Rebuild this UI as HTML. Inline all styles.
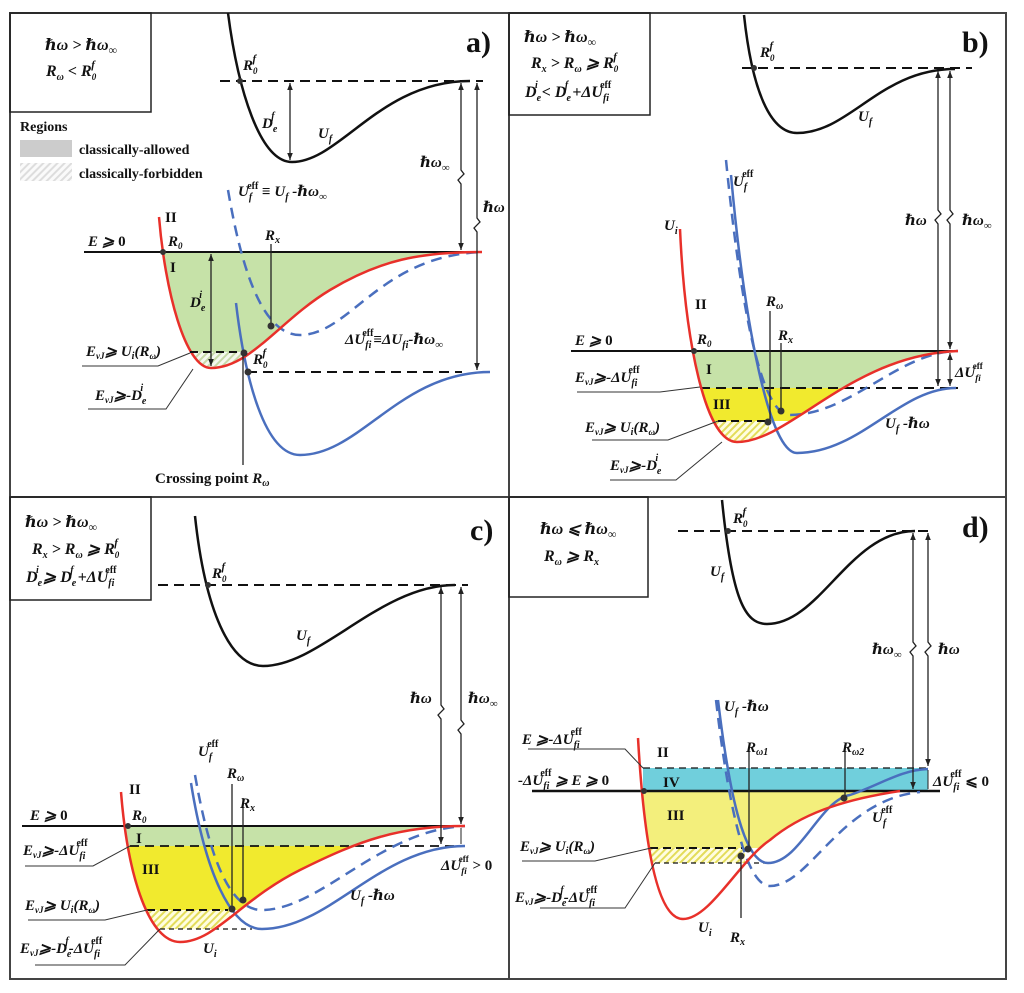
<!DOCTYPE html>
<html><head><meta charset="utf-8"><style>
html,body{margin:0;padding:0;background:#fff}
svg{display:block}
text{font-family:"Liberation Serif","DejaVu Serif",serif;font-weight:bold;font-style:italic;font-size:15px;fill:#111}
.n{font-style:normal}
.big{font-size:30px;font-style:normal}
.box{font-size:16px}
.lb{font-size:14px;font-style:normal}
</style></head><body>
<svg width="1024" height="993" viewBox="0 0 1024 993" xmlns="http://www.w3.org/2000/svg">
<defs>
<marker id="ah" viewBox="0 0 10 10" refX="10" refY="5" markerWidth="7" markerHeight="9" orient="auto-start-reverse" markerUnits="userSpaceOnUse"><path d="M0,1 L10,5 L0,9 Z" fill="#222"/></marker>
<pattern id="hg" width="5" height="5" patternUnits="userSpaceOnUse" patternTransform="rotate(45)"><rect width="5" height="5" fill="#f4f8ee"/><rect width="2" height="5" fill="#c6d9a8"/></pattern>
<pattern id="hy" width="5" height="5" patternUnits="userSpaceOnUse" patternTransform="rotate(45)"><rect width="5" height="5" fill="#fffde0"/><rect width="2" height="5" fill="#e3dc5a"/></pattern>
<pattern id="hl" width="5" height="5" patternUnits="userSpaceOnUse" patternTransform="rotate(45)"><rect width="5" height="5" fill="#fafafa"/><rect width="2" height="5" fill="#ddd"/></pattern>
<clipPath id="ca1"><rect x="0" y="252" width="510" height="100"/></clipPath>
<clipPath id="ca2"><rect x="0" y="352" width="244" height="30"/></clipPath>
<clipPath id="cb1"><rect x="510" y="351" width="500" height="37"/></clipPath>
<clipPath id="cb2"><rect x="510" y="388" width="500" height="33"/></clipPath>
<clipPath id="cb3"><rect x="510" y="421" width="259" height="30"/></clipPath>
<clipPath id="cc1"><rect x="0" y="826" width="510" height="20"/></clipPath>
<clipPath id="cc2"><rect x="0" y="846" width="510" height="64"/></clipPath>
<clipPath id="cc3"><rect x="0" y="910" width="230" height="19"/></clipPath>
<clipPath id="cd1"><rect x="510" y="791" width="500" height="57"/></clipPath>
<clipPath id="cd2"><rect x="510" y="848" width="235" height="15"/></clipPath>
</defs>

<!-- frame -->
<rect x="10" y="13" width="996" height="966" fill="none" stroke="#444" stroke-width="2"/>
<line x1="509" y1="13" x2="509" y2="979" stroke="#444" stroke-width="2"/>
<line x1="10" y1="497" x2="1006" y2="497" stroke="#444" stroke-width="2"/>

<!-- ============ PANEL A ============ -->
<rect x="10" y="13" width="141" height="99" fill="none" stroke="#222" stroke-width="1.5"/>
<text x="45" y="50" class="box">ℏω &gt; ℏω<tspan dy="4" font-size="12">∞</tspan></text>
<text x="46" y="76" class="box">R<tspan dy="4" font-size="10">ω</tspan><tspan dy="-4"> &lt; R</tspan><tspan dy="4" font-size="9">0</tspan><tspan dx="-5" dy="-12" font-size="11">f</tspan></text>
<text x="466" y="52" class="big">a)</text>
<text x="20" y="131" class="lb">Regions</text>
<rect x="20" y="140" width="52" height="17" fill="#ccc"/>
<text x="79" y="154" class="lb">classically-allowed</text>
<rect x="20" y="163" width="52" height="18" fill="url(#hl)"/>
<text x="79" y="178" class="lb">classically-forbidden</text>

<path d="M159,217 C165,290 185,368 211,368 C250,368 280,320 330,290 C380,260 420,252 482,252 Z" fill="#c6e2a8" clip-path="url(#ca1)"/>
<path d="M159,217 C165,290 185,368 211,368 C250,368 280,320 330,290 C380,260 420,252 482,252 Z" fill="url(#hg)" clip-path="url(#ca2)"/>
<line x1="220" y1="81" x2="483" y2="81" stroke="#111" stroke-width="2" stroke-dasharray="10,6"/>
<path d="M228,13 C238,90 260,162 292,162 C340,162 380,81 470,81" fill="none" stroke="#111" stroke-width="2.5"/>
<circle cx="240" cy="81" r="3" fill="#333"/>
<text x="243" y="70">R<tspan dy="4" font-size="9">0</tspan><tspan dx="-5" dy="-12" font-size="11">f</tspan></text>
<line x1="290" y1="83" x2="290" y2="160" stroke="#222" stroke-width="1.3" marker-start="url(#ah)" marker-end="url(#ah)"/>
<text x="262" y="128">D<tspan dy="4" font-size="10">e</tspan><tspan dx="-6" dy="-13" font-size="10">f</tspan></text>
<text x="318" y="138">U<tspan dy="4" font-size="10">f</tspan></text>
<line x1="84" y1="252" x2="482" y2="252" stroke="#111" stroke-width="2"/>
<text x="88" y="246">E ⩾ <tspan class="n">0</tspan></text>
<path d="M228,190 C240,260 260,335 300,335 C350,335 380,255 483,252" fill="none" stroke="#4a6fbe" stroke-width="2.5" stroke-dasharray="11,7"/>
<path d="M236,303 C245,380 265,455 300,455 C360,455 400,372 490,372" fill="none" stroke="#4a6fbe" stroke-width="2.5"/>
<path d="M159,217 C165,290 185,368 211,368 C250,368 280,320 330,290 C380,260 420,252 482,252" fill="none" stroke="#e8302a" stroke-width="2.5"/>
<line x1="190" y1="352" x2="243" y2="352" stroke="#111" stroke-width="2" stroke-dasharray="8,5"/>
<line x1="247" y1="372" x2="462" y2="372" stroke="#111" stroke-width="2" stroke-dasharray="10,6"/>
<line x1="211" y1="254" x2="211" y2="366" stroke="#222" stroke-width="1.3" marker-start="url(#ah)" marker-end="url(#ah)"/>
<text x="190" y="307">D<tspan dy="4" font-size="10">e</tspan><tspan dx="-6" dy="-13" font-size="10">i</tspan></text>
<line x1="271" y1="244" x2="271" y2="326" stroke="#222" stroke-width="1.3"/>
<text x="265" y="240">R<tspan dy="3" font-size="10">x</tspan></text>
<line x1="243" y1="352" x2="243" y2="465" stroke="#222" stroke-width="1.3"/>
<circle cx="163" cy="252" r="3" fill="#333"/><circle cx="271" cy="326" r="3.5" fill="#333"/><circle cx="244" cy="353" r="3.5" fill="#333"/><circle cx="248" cy="372" r="3.5" fill="#333"/>
<text x="165" y="222" class="n" font-size="17">II</text>
<text x="170" y="272" class="n" font-size="17">I</text>
<text x="168" y="246">R<tspan dy="3" font-size="9">0</tspan></text>
<text x="253" y="364">R<tspan dy="4" font-size="9">0</tspan><tspan dx="-5" dy="-12" font-size="11">f</tspan></text>
<text x="155" y="483" class="n">Crossing point <tspan font-style="italic">R<tspan dy="3" font-size="10">ω</tspan></tspan></text>
<text x="238" y="196">U<tspan dy="4" font-size="10">f</tspan><tspan dx="-5" dy="-11" font-size="10" class="n">eff</tspan><tspan dy="7"> ≡ U</tspan><tspan dy="4" font-size="10">f</tspan><tspan dy="-4"> -ℏω</tspan><tspan dy="4" font-size="11">∞</tspan></text>
<text x="345" y="344">ΔU<tspan dy="4" font-size="10">fi</tspan><tspan dx="-9" dy="-12" font-size="10" class="n">eff</tspan><tspan dy="8">≡ΔU</tspan><tspan dy="4" font-size="10">fi</tspan><tspan dy="-4">-ℏω</tspan><tspan dy="4" font-size="11">∞</tspan></text>
<path d="M461,83 V170 L464,174 L458,180 L461,184 V250" fill="none" stroke="#222" stroke-width="1.3" marker-start="url(#ah)" marker-end="url(#ah)"/>
<text x="420" y="167">ℏω<tspan dy="4" font-size="11">∞</tspan></text>
<path d="M477,83 V218 L480,222 L474,228 L477,232 V370" fill="none" stroke="#222" stroke-width="1.3" marker-start="url(#ah)" marker-end="url(#ah)"/>
<text x="483" y="212">ℏω</text>
<text x="86" y="356">E<tspan dy="3" font-size="9">vJ</tspan><tspan dy="-3">⩾ U</tspan><tspan dy="3" font-size="10">i</tspan><tspan dy="-3">(R</tspan><tspan dy="3" font-size="9">ω</tspan><tspan dy="-3">)</tspan></text>
<polyline points="82,366 158,366 190,353" fill="none" stroke="#333" stroke-width="1"/>
<text x="95" y="400">E<tspan dy="3" font-size="9">vJ</tspan><tspan dy="-3">⩾-D</tspan><tspan dy="4" font-size="10">e</tspan><tspan dx="-6" dy="-13" font-size="10">i</tspan></text>
<polyline points="88,409 166,409 193,369" fill="none" stroke="#333" stroke-width="1"/>

<!-- ============ PANEL B ============ -->
<rect x="509" y="13" width="141" height="102" fill="none" stroke="#222" stroke-width="1.5"/>
<text x="524" y="42" class="box">ℏω &gt; ℏω<tspan dy="4" font-size="12">∞</tspan></text>
<text x="531" y="68" class="box">R<tspan dy="4" font-size="10">x</tspan><tspan dy="-4"> &gt; R</tspan><tspan dy="4" font-size="10">ω</tspan><tspan dy="-4"> ⩾ R</tspan><tspan dy="4" font-size="9">0</tspan><tspan dx="-5" dy="-12" font-size="11">f</tspan></text>
<text x="525" y="97" class="box" font-weight="normal">D<tspan dy="4" font-size="10">e</tspan><tspan dx="-6" dy="-13" font-size="10">i</tspan><tspan dy="9"> &lt; D</tspan><tspan dy="4" font-size="10">e</tspan><tspan dx="-6" dy="-13" font-size="10">f</tspan><tspan dy="9"> +ΔU</tspan><tspan dy="4" font-size="10">fi</tspan><tspan dx="-9" dy="-13" font-size="10" class="n">eff</tspan></text>
<text x="962" y="52" class="big">b)</text>

<path d="M680,229 C685,340 705,442 737,442 C790,442 850,355 958,351 Z" fill="#c6e2a8" clip-path="url(#cb1)"/>
<path d="M680,229 C685,340 705,442 737,442 C790,442 850,355 958,351 Z" fill="#f1ea2e" clip-path="url(#cb2)"/>
<path d="M680,229 C685,340 705,442 737,442 C790,442 850,355 958,351 Z" fill="url(#hy)" clip-path="url(#cb3)"/>
<line x1="742" y1="68" x2="972" y2="68" stroke="#111" stroke-width="2" stroke-dasharray="10,6"/>
<path d="M744,15 C752,90 770,133 797,133 C850,133 880,69 955,69" fill="none" stroke="#111" stroke-width="2.5"/>
<circle cx="754" cy="68" r="3" fill="#333"/>
<text x="760" y="57">R<tspan dy="4" font-size="9">0</tspan><tspan dx="-5" dy="-12" font-size="11">f</tspan></text>
<text x="858" y="121">U<tspan dy="4" font-size="10">f</tspan></text>
<line x1="571" y1="351" x2="958" y2="351" stroke="#111" stroke-width="2"/>
<text x="575" y="345">E ⩾ <tspan class="n">0</tspan></text>
<line x1="700" y1="388" x2="958" y2="388" stroke="#111" stroke-width="2" stroke-dasharray="10,6"/>
<line x1="718" y1="421" x2="768" y2="421" stroke="#111" stroke-width="2" stroke-dasharray="8,5"/>
<path d="M726,160 C740,300 760,415 790,415 C850,415 900,351 958,351" fill="none" stroke="#4a6fbe" stroke-width="2.5" stroke-dasharray="11,7"/>
<path d="M731,175 C745,330 770,453 797,453 C860,453 900,388 956,388" fill="none" stroke="#4a6fbe" stroke-width="2.5"/>
<path d="M680,229 C685,340 705,442 737,442 C790,442 850,355 958,351" fill="none" stroke="#e8302a" stroke-width="2.5"/>
<line x1="770" y1="311" x2="770" y2="422" stroke="#222" stroke-width="1.3"/>
<line x1="781" y1="343" x2="781" y2="411" stroke="#222" stroke-width="1.3"/>
<circle cx="694" cy="351" r="3" fill="#333"/><circle cx="768" cy="422" r="3.5" fill="#333"/><circle cx="781" cy="411" r="3.5" fill="#333"/>
<text x="766" y="306">R<tspan dy="3" font-size="10">ω</tspan></text>
<text x="778" y="340">R<tspan dy="3" font-size="10">x</tspan></text>
<text x="664" y="230">U<tspan dy="4" font-size="10">i</tspan></text>
<text x="733" y="186">U<tspan dy="4" font-size="10">f</tspan><tspan dx="-5" dy="-13" font-size="10" class="n">eff</tspan></text>
<text x="885" y="428">U<tspan dy="4" font-size="10">f</tspan><tspan dy="-4"> -ℏω</tspan></text>
<text x="695" y="309" class="n" font-size="17">II</text>
<text x="706" y="374" class="n" font-size="17">I</text>
<text x="713" y="409" class="n" font-size="17">III</text>
<text x="697" y="344">R<tspan dy="3" font-size="9">0</tspan></text>
<path d="M938,71 V210 L941,214 L935,220 L938,224 V386" fill="none" stroke="#222" stroke-width="1.3" marker-start="url(#ah)" marker-end="url(#ah)"/>
<text x="905" y="225">ℏω</text>
<path d="M950,71 V210 L953,214 L947,220 L950,224 V349" fill="none" stroke="#222" stroke-width="1.3" marker-start="url(#ah)" marker-end="url(#ah)"/>
<text x="962" y="225">ℏω<tspan dy="4" font-size="11">∞</tspan></text>
<line x1="950" y1="353" x2="950" y2="386" stroke="#222" stroke-width="1.1" marker-start="url(#ah)" marker-end="url(#ah)"/>
<text x="955" y="377" font-size="13">ΔU<tspan dy="4" font-size="9">fi</tspan><tspan dx="-8" dy="-12" font-size="9" class="n">eff</tspan></text>
<text x="575" y="382">E<tspan dy="3" font-size="9">vJ</tspan><tspan dy="-3">⩾-ΔU</tspan><tspan dy="4" font-size="10">fi</tspan><tspan dx="-9" dy="-13" font-size="10" class="n">eff</tspan></text>
<polyline points="577,392 660,392 700,387" fill="none" stroke="#333" stroke-width="1"/>
<text x="585" y="432">E<tspan dy="3" font-size="9">vJ</tspan><tspan dy="-3">⩾ U</tspan><tspan dy="3" font-size="10">i</tspan><tspan dy="-3">(R</tspan><tspan dy="3" font-size="9">ω</tspan><tspan dy="-3">)</tspan></text>
<polyline points="592,440 668,440 718,421" fill="none" stroke="#333" stroke-width="1"/>
<text x="610" y="470">E<tspan dy="3" font-size="9">vJ</tspan><tspan dy="-3">⩾-D</tspan><tspan dy="4" font-size="10">e</tspan><tspan dx="-6" dy="-13" font-size="10">i</tspan></text>
<polyline points="610,480 676,480 722,442" fill="none" stroke="#333" stroke-width="1"/>

<!-- ============ PANEL C ============ -->
<rect x="10" y="497" width="141" height="103" fill="none" stroke="#222" stroke-width="1.5"/>
<text x="25" y="527" class="box">ℏω &gt; ℏω<tspan dy="4" font-size="12">∞</tspan></text>
<text x="32" y="554" class="box">R<tspan dy="4" font-size="10">x</tspan><tspan dy="-4"> &gt; R</tspan><tspan dy="4" font-size="10">ω</tspan><tspan dy="-4"> ⩾ R</tspan><tspan dy="4" font-size="9">0</tspan><tspan dx="-5" dy="-12" font-size="11">f</tspan></text>
<text x="26" y="582" class="box" font-weight="normal">D<tspan dy="4" font-size="10">e</tspan><tspan dx="-6" dy="-13" font-size="10">i</tspan><tspan dy="9"> ⩾ D</tspan><tspan dy="4" font-size="10">e</tspan><tspan dx="-6" dy="-13" font-size="10">f</tspan><tspan dy="9"> +ΔU</tspan><tspan dy="4" font-size="10">fi</tspan><tspan dx="-9" dy="-13" font-size="10" class="n">eff</tspan></text>
<text x="470" y="540" class="big">c)</text>

<path d="M121,792 C128,880 150,942 180,942 C215,942 240,900 300,870 C360,840 400,826 465,826 Z" fill="#c6e2a8" clip-path="url(#cc1)"/>
<path d="M121,792 C128,880 150,942 180,942 C215,942 240,900 300,870 C360,840 400,826 465,826 Z" fill="#f1ea2e" clip-path="url(#cc2)"/>
<path d="M121,792 C128,880 150,942 180,942 C215,942 240,900 300,870 C360,840 400,826 465,826 Z" fill="url(#hy)" clip-path="url(#cc3)"/>
<line x1="158" y1="585" x2="468" y2="585" stroke="#111" stroke-width="2" stroke-dasharray="10,6"/>
<path d="M195,516 C205,610 230,666 263,666 C320,666 380,585 455,585" fill="none" stroke="#111" stroke-width="2.5"/>
<circle cx="208" cy="585" r="3" fill="#333"/>
<text x="212" y="578">R<tspan dy="4" font-size="9">0</tspan><tspan dx="-5" dy="-12" font-size="11">f</tspan></text>
<text x="296" y="640">U<tspan dy="4" font-size="10">f</tspan></text>
<line x1="22" y1="826" x2="465" y2="826" stroke="#111" stroke-width="2"/>
<text x="30" y="820">E ⩾ <tspan class="n">0</tspan></text>
<line x1="130" y1="846" x2="465" y2="846" stroke="#111" stroke-width="1.8" stroke-dasharray="9,6"/>
<line x1="147" y1="910" x2="228" y2="910" stroke="#111" stroke-width="2" stroke-dasharray="8,5"/>
<line x1="160" y1="929" x2="252" y2="929" stroke="#111" stroke-width="1.3" stroke-dasharray="5,4"/>
<path d="M195,775 C210,860 230,910 262,910 C320,910 380,830 465,826" fill="none" stroke="#4a6fbe" stroke-width="2.5" stroke-dasharray="11,7"/>
<path d="M191,783 C205,870 230,929 262,929 C330,929 380,846 465,846" fill="none" stroke="#4a6fbe" stroke-width="2.5"/>
<path d="M121,792 C128,880 150,942 180,942 C215,942 240,900 300,870 C360,840 400,826 465,826" fill="none" stroke="#e8302a" stroke-width="2.5"/>
<line x1="232" y1="784" x2="232" y2="908" stroke="#222" stroke-width="1.3"/>
<line x1="243" y1="798" x2="243" y2="900" stroke="#222" stroke-width="1.3"/>
<circle cx="128" cy="826" r="3" fill="#333"/><circle cx="232" cy="909" r="3.5" fill="#333"/><circle cx="243" cy="900" r="3.5" fill="#333"/>
<text x="227" y="778">R<tspan dy="3" font-size="10">ω</tspan></text>
<text x="240" y="808">R<tspan dy="3" font-size="10">x</tspan></text>
<text x="129" y="794" class="n" font-size="17">II</text>
<text x="136" y="843" class="n" font-size="16">I</text>
<text x="142" y="874" class="n" font-size="17">III</text>
<text x="132" y="820">R<tspan dy="3" font-size="9">0</tspan></text>
<text x="198" y="756">U<tspan dy="4" font-size="10">f</tspan><tspan dx="-5" dy="-13" font-size="10" class="n">eff</tspan></text>
<text x="350" y="900">U<tspan dy="4" font-size="10">f</tspan><tspan dy="-4"> -ℏω</tspan></text>
<text x="203" y="953">U<tspan dy="4" font-size="10">i</tspan></text>
<path d="M441,587 V705 L444,709 L438,715 L441,719 V844" fill="none" stroke="#222" stroke-width="1.3" marker-start="url(#ah)" marker-end="url(#ah)"/>
<text x="410" y="703">ℏω</text>
<path d="M461,587 V720 L464,724 L458,730 L461,734 V824" fill="none" stroke="#222" stroke-width="1.3" marker-start="url(#ah)" marker-end="url(#ah)"/>
<text x="468" y="703">ℏω<tspan dy="4" font-size="11">∞</tspan></text>
<line x1="461" y1="828" x2="461" y2="844" stroke="#222" stroke-width="1"/>
<text x="441" y="870" font-size="13">ΔU<tspan dy="4" font-size="9">fi</tspan><tspan dx="-8" dy="-12" font-size="9" class="n">eff</tspan><tspan dy="8" class="n"> &gt; 0</tspan></text>
<text x="23" y="855">E<tspan dy="3" font-size="9">vJ</tspan><tspan dy="-3">⩾-ΔU</tspan><tspan dy="4" font-size="10">fi</tspan><tspan dx="-9" dy="-13" font-size="10" class="n">eff</tspan></text>
<polyline points="25,866 93,866 130,846" fill="none" stroke="#333" stroke-width="1"/>
<text x="25" y="910">E<tspan dy="3" font-size="9">vJ</tspan><tspan dy="-3">⩾ U</tspan><tspan dy="3" font-size="10">i</tspan><tspan dy="-3">(R</tspan><tspan dy="3" font-size="9">ω</tspan><tspan dy="-3">)</tspan></text>
<polyline points="28,920 105,920 147,910" fill="none" stroke="#333" stroke-width="1"/>
<text x="20" y="953">E<tspan dy="3" font-size="9">vJ</tspan><tspan dy="-3">⩾-D</tspan><tspan dy="4" font-size="10">e</tspan><tspan dx="-6" dy="-13" font-size="10">f</tspan><tspan dy="9">-ΔU</tspan><tspan dy="4" font-size="10">fi</tspan><tspan dx="-9" dy="-13" font-size="10" class="n">eff</tspan></text>
<polyline points="35,965 125,965 160,929" fill="none" stroke="#333" stroke-width="1"/>

<!-- ============ PANEL D ============ -->
<rect x="509" y="497" width="139" height="100" fill="none" stroke="#222" stroke-width="1.5"/>
<text x="540" y="534" class="box">ℏω ⩽ ℏω<tspan dy="4" font-size="12">∞</tspan></text>
<text x="544" y="561" class="box">R<tspan dy="4" font-size="10">ω</tspan><tspan dy="-4"> ⩾ R</tspan><tspan dy="4" font-size="10">x</tspan></text>
<text x="962" y="537" class="big">d)</text>

<rect x="643" y="768" width="285" height="23" fill="#70cfdc"/>
<path d="M638,738 C645,860 660,919 683,919 C710,919 740,860 770,840 C800,815 840,800 900,791 Z" fill="#f3ef7c" clip-path="url(#cd1)"/>
<path d="M638,738 C645,860 660,919 683,919 C710,919 740,860 770,840 C800,815 840,800 900,791 Z" fill="url(#hy)" clip-path="url(#cd2)"/>
<line x1="678" y1="531" x2="930" y2="531" stroke="#111" stroke-width="2" stroke-dasharray="10,6"/>
<path d="M722,500 C732,600 745,624 767,624 C820,624 850,531 915,531" fill="none" stroke="#111" stroke-width="2.5"/>
<circle cx="728" cy="531" r="3" fill="#333"/>
<text x="733" y="523">R<tspan dy="4" font-size="9">0</tspan><tspan dx="-5" dy="-12" font-size="11">f</tspan></text>
<text x="710" y="576">U<tspan dy="4" font-size="10">f</tspan></text>
<line x1="643" y1="768" x2="928" y2="768" stroke="#111" stroke-width="1.2" stroke-dasharray="7,5"/>
<line x1="532" y1="791" x2="940" y2="791" stroke="#111" stroke-width="2.5"/>
<line x1="650" y1="848" x2="744" y2="848" stroke="#111" stroke-width="2" stroke-dasharray="8,5"/>
<line x1="655" y1="863" x2="770" y2="863" stroke="#111" stroke-width="1.2" stroke-dasharray="5,4"/>
<path d="M716,700 C730,820 748,886 770,886 C810,886 840,800 920,792" fill="none" stroke="#4a6fbe" stroke-width="2.5" stroke-dasharray="11,7"/>
<path d="M718,700 C730,800 745,863 768,863 C800,863 820,800 850,795 C880,785 900,770 928,769" fill="none" stroke="#4a6fbe" stroke-width="2.5"/>
<path d="M638,738 C645,860 660,919 683,919 C710,919 740,860 770,840 C800,815 840,800 900,791" fill="none" stroke="#e8302a" stroke-width="2.5"/>
<line x1="749" y1="748" x2="749" y2="849" stroke="#222" stroke-width="1.3"/>
<line x1="845" y1="745" x2="845" y2="798" stroke="#222" stroke-width="1.3"/>
<line x1="741" y1="855" x2="741" y2="918" stroke="#222" stroke-width="1.3"/>
<circle cx="644" cy="791" r="3" fill="#333"/><circle cx="748" cy="849" r="3.5" fill="#333"/><circle cx="741" cy="856" r="3.5" fill="#333"/><circle cx="844" cy="798" r="3.5" fill="#333"/>
<text x="746" y="752">R<tspan dy="3" font-size="10">ω1</tspan></text>
<text x="842" y="752">R<tspan dy="3" font-size="10">ω2</tspan></text>
<text x="730" y="942">R<tspan dy="3" font-size="10">x</tspan></text>
<text x="657" y="757" class="n" font-size="17">II</text>
<text x="663" y="787" class="n" font-size="17">IV</text>
<text x="667" y="820" class="n" font-size="17">III</text>
<text x="698" y="932">U<tspan dy="4" font-size="10">i</tspan></text>
<text x="724" y="711">U<tspan dy="4" font-size="10">f</tspan><tspan dy="-4"> -ℏω</tspan></text>
<text x="872" y="822">U<tspan dy="4" font-size="10">f</tspan><tspan dx="-5" dy="-13" font-size="10" class="n">eff</tspan></text>
<path d="M913,533 V642 L916,646 L910,652 L913,656 V789" fill="none" stroke="#222" stroke-width="1.3" marker-start="url(#ah)" marker-end="url(#ah)"/>
<text x="872" y="654">ℏω<tspan dy="4" font-size="11">∞</tspan></text>
<path d="M928,533 V642 L931,646 L925,652 L928,656 V766" fill="none" stroke="#222" stroke-width="1.3" marker-start="url(#ah)" marker-end="url(#ah)"/>
<text x="938" y="654">ℏω</text>
<line x1="928" y1="770" x2="928" y2="789" stroke="#222" stroke-width="1"/>
<text x="933" y="786">ΔU<tspan dy="4" font-size="10">fi</tspan><tspan dx="-9" dy="-13" font-size="10" class="n">eff</tspan><tspan dy="9" class="n"> ⩽ 0</tspan></text>
<text x="522" y="744">E ⩾-ΔU<tspan dy="4" font-size="10">fi</tspan><tspan dx="-9" dy="-13" font-size="10" class="n">eff</tspan></text>
<polyline points="528,749 625,749 643,768" fill="none" stroke="#333" stroke-width="1"/>
<text x="518" y="785">-ΔU<tspan dy="4" font-size="10">fi</tspan><tspan dx="-9" dy="-13" font-size="10" class="n">eff</tspan><tspan dy="9"> ⩾ E ⩾</tspan><tspan class="n"> 0</tspan></text>
<text x="520" y="851">E<tspan dy="3" font-size="9">vJ</tspan><tspan dy="-3">⩾ U</tspan><tspan dy="3" font-size="10">i</tspan><tspan dy="-3">(R</tspan><tspan dy="3" font-size="9">ω</tspan><tspan dy="-3">)</tspan></text>
<polyline points="522,861 595,861 651,848" fill="none" stroke="#333" stroke-width="1"/>
<text x="515" y="902">E<tspan dy="3" font-size="9">vJ</tspan><tspan dy="-3">⩾-D</tspan><tspan dy="4" font-size="10">e</tspan><tspan dx="-6" dy="-13" font-size="10">f</tspan><tspan dy="9">-ΔU</tspan><tspan dy="4" font-size="10">fi</tspan><tspan dx="-9" dy="-13" font-size="10" class="n">eff</tspan></text>
<polyline points="540,908 625,908 655,863" fill="none" stroke="#333" stroke-width="1"/>
</svg>
</body></html>
